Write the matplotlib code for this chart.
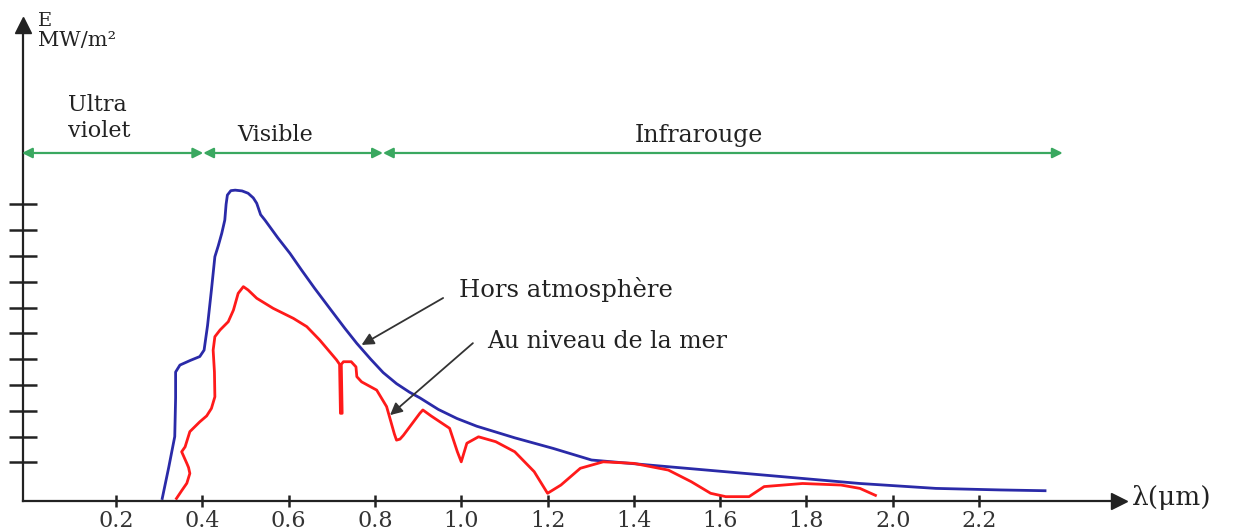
import matplotlib
matplotlib.use("Agg")
import matplotlib.pyplot as plt

# ---- data (wavelength in micrometres, irradiance in arbitrary tick units) ----
blue_x = [0.307, 0.322, 0.336, 0.338, 0.338, 0.348, 0.372, 0.394, 0.404, 0.412,
          0.421, 0.429, 0.437, 0.445, 0.452, 0.455, 0.458, 0.466, 0.476, 0.492,
          0.506, 0.518, 0.526, 0.535, 0.545, 0.575, 0.603, 0.630, 0.660, 0.696,
          0.730, 0.758, 0.790, 0.819, 0.850, 0.880, 0.904, 0.947, 0.990, 1.036,
          1.124, 1.213, 1.302, 1.391, 1.569, 1.747, 1.924, 2.100, 2.250, 2.353]
blue_y = [0.10, 1.30, 2.50, 4.00, 5.00, 5.27, 5.45, 5.60, 5.85, 6.80,
          8.18, 9.47, 9.90, 10.38, 10.89, 11.50, 11.86, 12.03, 12.05, 12.02,
          11.93, 11.75, 11.54, 11.10, 10.89, 10.20, 9.60, 8.95, 8.25, 7.45,
          6.70, 6.11, 5.50, 4.98, 4.55, 4.22, 4.00, 3.55, 3.20, 2.90,
          2.45, 2.04, 1.59, 1.46, 1.20, 0.94, 0.68, 0.49, 0.43, 0.40]

red_x = [0.340, 0.352, 0.364, 0.371, 0.368, 0.364, 0.352, 0.360, 0.371, 0.394,
         0.410, 0.421, 0.429, 0.428, 0.425, 0.429, 0.441, 0.460, 0.472, 0.483,
         0.495, 0.506, 0.526, 0.564, 0.611, 0.642, 0.672, 0.711, 0.718, 0.720,
         0.724, 0.722, 0.727, 0.745, 0.756, 0.758, 0.769, 0.804, 0.827, 0.845,
         0.850, 0.858, 0.866, 0.904, 0.911, 0.930, 0.973, 0.991, 1.000, 1.013,
         1.040, 1.080, 1.124, 1.169, 1.200, 1.231, 1.276, 1.329, 1.400, 1.480,
         1.533, 1.578, 1.613, 1.667, 1.702, 1.791, 1.880, 1.924, 1.960]
red_y = [0.10, 0.40, 0.69, 1.07, 1.30, 1.46, 1.91, 2.10, 2.69, 3.07,
         3.30, 3.59, 4.04, 5.00, 5.85, 6.37, 6.63, 6.95, 7.40, 8.05,
         8.31, 8.18, 7.86, 7.47, 7.08, 6.76, 6.24, 5.47, 5.30, 3.40,
         3.40, 5.30, 5.40, 5.40, 5.20, 4.82, 4.62, 4.30, 3.66, 2.60,
         2.36, 2.40, 2.55, 3.40, 3.53, 3.30, 2.82, 1.91, 1.52, 2.24,
         2.49, 2.30, 1.91, 1.14, 0.30, 0.62, 1.27, 1.52, 1.46, 1.20,
         0.75, 0.30, 0.17, 0.17, 0.56, 0.68, 0.62, 0.49, 0.22]

x_ticks = [0.2, 0.4, 0.6, 0.8, 1.0, 1.2, 1.4, 1.6, 1.8, 2.0, 2.2]
x_tick_labels = ["0.2", "0.4", "0.6", "0.8", "1.0", "1.2", "1.4", "1.6", "1.8", "2.0", "2.2"]
y_ticks = [1.5, 2.5, 3.5, 4.5, 5.5, 6.5, 7.5, 8.5, 9.5, 10.5, 11.5]

band_names = ["Ultra\nviolet", "Visible", "Infrarouge"]
band_edges = [-0.018, 0.402, 0.8185, 2.394]

# ---- figure ----
fig = plt.figure(figsize=(12.53, 5.32), dpi=100)
ax = fig.add_axes([0, 0, 1, 1])
ax.set_xlim(-0.069, 2.835)
ax.set_ylim(-1.2, 19.42)

font = "DejaVu Serif"
ink = "#222222"

# axes as spines through the origin
for s in ("top", "right"):
    ax.spines[s].set_visible(False)
ax.spines["left"].set_position(("data", -0.016))
ax.spines["bottom"].set_position(("data", 0))
ax.spines["left"].set_bounds(0, 18.4)
ax.spines["bottom"].set_bounds(-0.016, 2.52)
for s in ("left", "bottom"):
    ax.spines[s].set_linewidth(1.6)
    ax.spines[s].set_color(ink)
ax.plot([2.525], [0], marker=">", color=ink, markersize=11, clip_on=False)
ax.plot([-0.016], [18.45], marker="^", color=ink, markersize=11, clip_on=False)

ax.set_xticks(x_ticks)
ax.set_xticklabels(x_tick_labels, fontfamily=font, fontsize=16, color="#333333")
ax.set_yticks(y_ticks)
ax.set_yticklabels([])
ax.tick_params(axis="x", direction="inout", length=9, width=1.8, color=ink, pad=2)
ax.tick_params(axis="y", direction="inout", length=20, width=1.8, color=ink)

# curves
ax.plot(blue_x, blue_y, color="#2a2aa8", lw=2.0, solid_joinstyle="round")
ax.plot(red_x, red_y, color="#ff1a1a", lw=2.0, solid_joinstyle="round")

# spectral bands (green double arrows)
band_y = 13.49
for i in range(3):
    ax.annotate("", xy=(band_edges[i + 1], band_y), xytext=(band_edges[i], band_y),
                arrowprops=dict(arrowstyle="<|-|>", color="#3aa860", lw=1.6,
                                mutation_scale=15, shrinkA=0, shrinkB=0))

ax.text(0.0885, 14.85, band_names[0], fontfamily=font, fontsize=16, color=ink,
        ha="left", va="center", linespacing=1.2)
ax.text(0.482, 14.19, band_names[1], fontfamily=font, fontsize=16, color=ink,
        ha="left", va="center")
ax.text(1.403, 14.15, band_names[2], fontfamily=font, fontsize=17, color=ink,
        ha="left", va="center")

# axis labels
ax.text(0.019, 18.6, "E", fontfamily=font, fontsize=14, color=ink, ha="left", va="center")
ax.text(0.019, 17.85, "MW/m²", fontfamily=font, fontsize=15, color=ink, ha="left", va="center")
ax.text(2.555, 0.12, "λ(μm)", fontfamily=font, fontsize=19, color=ink, ha="left", va="center")

# curve annotations
ax.annotate("", xy=(0.769, 6.05), xytext=(0.958, 7.87),
            arrowprops=dict(arrowstyle="-|>", color="#333333", lw=1.3,
                            mutation_scale=18, shrinkA=0, shrinkB=0))
ax.annotate("", xy=(0.835, 3.33), xytext=(1.027, 6.12),
            arrowprops=dict(arrowstyle="-|>", color="#333333", lw=1.3,
                            mutation_scale=18, shrinkA=0, shrinkB=0))
ax.text(0.995, 8.18, "Hors atmosphère", fontfamily=font, fontsize=17.5, color=ink,
        ha="left", va="center")
ax.text(1.06, 6.2, "Au niveau de la mer", fontfamily=font, fontsize=17, color=ink,
        ha="left", va="center")

fig.savefig("out.png", dpi=100, facecolor="white")
